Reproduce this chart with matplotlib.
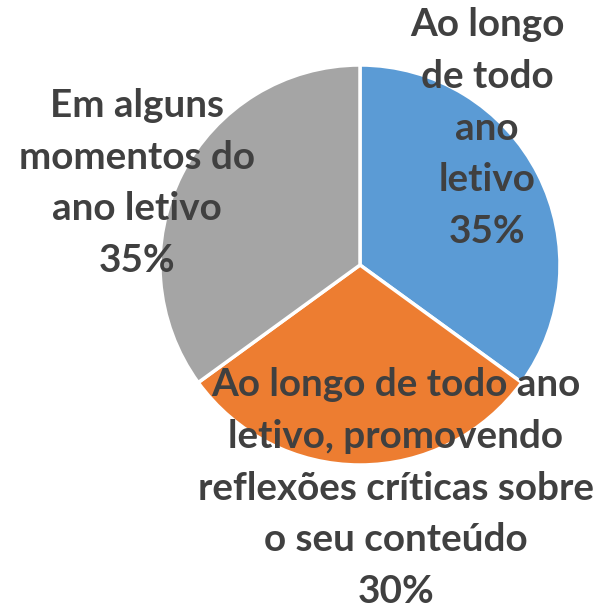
import matplotlib
matplotlib.use("Agg")
import matplotlib.pyplot as plt

categories = [
    "Ao longo\nde todo\nano\nletivo",
    "Ao longo de todo ano\nletivo, promovendo\nreflexões críticas sobre\no seu conteúdo",
    "Em alguns\nmomentos do\nano letivo",
]
values = [35, 30, 35]
colors = ["#5B9BD5", "#ED7D31", "#A5A5A5"]

W, H = 599, 609
fig = plt.figure(figsize=(W / 100, H / 100), dpi=100)
ax = fig.add_axes([0, 0, 1, 1])
ax.set_xlim(0, W)
ax.set_ylim(0, H)
ax.set_aspect("equal")
ax.axis("off")

cx, cy, r = 360, H - 265, 200
ax.pie(values, colors=colors, startangle=90, counterclock=False,
       center=(cx, cy), radius=r, frame=True,
       wedgeprops=dict(edgecolor="white", linewidth=2.5))
ax.set_xlim(0, W)
ax.set_ylim(0, H)
ax.axis("off")

label_pos = [(487, H - 128), (396, H - 488), (137, H - 183)]
total = sum(values)
for cat, v, (x, y) in zip(categories, values, label_pos):
    ax.text(x, y, f"{cat}\n{round(100 * v / total)}%", ha="center", va="center",
            fontsize=27.8, fontweight="bold", family="Lato", color="#404040",
            linespacing=1.58)

fig.savefig("out.png", dpi=100)
